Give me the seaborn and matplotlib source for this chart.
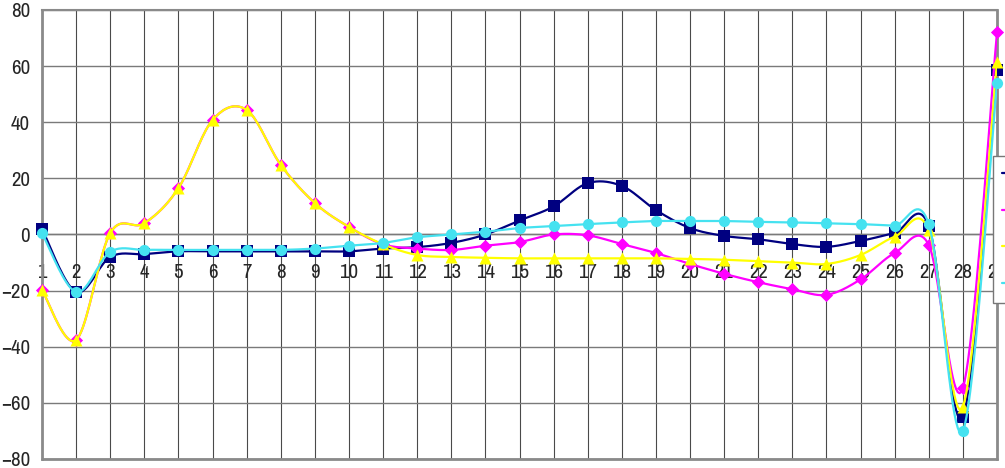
import numpy as np
import pandas as pd
import seaborn as sns
import matplotlib
matplotlib.use("Agg")
from matplotlib import pyplot as plt
from matplotlib import font_manager
from matplotlib.font_manager import FontProperties
from matplotlib.lines import Line2D

# values
categories = list(range(1, 30))
series_names = ["Series1", "Series2", "Series3", "Series4"]
navy_vals = [2, -20.5, -8, -7, -6, -6, -6, -6, -6, -6, -5, -4.5, -3, 0, 5, 10,
             18.3, 17.3, 8.7, 2.3, -0.5, -1.7, -3.4, -4.4, -2.3, 0.5, 3, -65, 58.6]
magenta_vals = [-19.8, -37.6, 0.5, 4, 16.5, 40.8, 44.4, 24.8, 11.2, 2.7, -3.5, -5,
                -5.5, -4, -2.7, 0, -0.3, -3.4, -6.6, -10.5, -14, -17, -19.5, -21.5,
                -16, -6.6, -3.7, -54.7, 72]
yellow_vals = [-19.8, -37.6, 0.5, 4, 16.5, 40.8, 44.4, 24.8, 11.2, 2.7, -3.5, -7.3,
               -8, -8.3, -8.5, -8.5, -8.5, -8.5, -8.5, -8.7, -9, -9.5, -10, -10.5,
               -7.3, -0.8, 1.5, -61.4, 61.5]
cyan_vals = [0.5, -20.5, -6.2, -5.5, -5.5, -5.5, -5.5, -5.5, -5, -4, -3, -1, 0, 1,
             2.3, 3, 3.7, 4.3, 4.8, 4.8, 4.8, 4.5, 4.3, 4, 3.7, 3.2, 3.7, -70, 54]

colors = ["#000080", "#FF00FF", "#FFFF00", "#45E2F0"]
markers = ["s", "D", "^", "o"]
marker_sizes = [65, 45, 75, 65]


# Excel-like smoothed line (Catmull-Rom through the points)
def smooth(x, y, steps=20):
    x = np.asarray(x, float)
    y = np.asarray(y, float)
    px = np.concatenate([[x[0]], x, [x[-1]]])
    py = np.concatenate([[y[0]], y, [y[-1]]])
    xs, ys = [], []
    t = np.linspace(0, 1, steps, endpoint=False)
    for i in range(1, len(px) - 2):
        for arr, out in ((px, xs), (py, ys)):
            p0, p1, p2, p3 = arr[i - 1], arr[i], arr[i + 1], arr[i + 2]
            c1 = p1 + (p2 - p0) / 6
            c2 = p2 - (p3 - p1) / 6
            out.extend((1 - t) ** 3 * p1 + 3 * (1 - t) ** 2 * t * c1
                       + 3 * (1 - t) * t ** 2 * c2 + t ** 3 * p2)
    xs.append(x[-1])
    ys.append(y[-1])
    return np.array(xs), np.array(ys)


# look for a narrow sans face (the reference uses Arial Narrow-like digits)
def narrow_font():
    best = None
    for f in font_manager.fontManager.ttflist:
        if f.style != "normal" or f.weight not in (400, "normal", "regular"):
            continue
        name = f.name.lower()
        if "narrow" in name:
            return f.fname, True
        if ("condensed" in name or f.stretch in ("condensed", "semi-condensed")) and best is None:
            best = f.fname
    if best:
        return best, True
    return None, False


sns.set_style("white")
plt.rcParams["font.family"] = ["Liberation Sans", "DejaVu Sans"]

font_path, is_narrow = narrow_font()
if is_narrow:
    tick_font = FontProperties(fname=font_path, size=15)
else:
    tick_font = FontProperties(family="Liberation Sans", size=13.5)

fig = plt.figure(figsize=(10.05, 4.68), dpi=100)
ax = fig.add_axes([42 / 1005, 9 / 468, 955 / 1005, 449 / 468])

all_vals = [navy_vals, magenta_vals, yellow_vals, cyan_vals]
for k, vals in enumerate(all_vals):
    sx, sy = smooth(categories, vals)
    curve = pd.DataFrame({"x": sx, "y": sy})
    pts = pd.DataFrame({"x": categories, "y": vals})
    sns.lineplot(data=curve, x="x", y="y", ax=ax, color=colors[k], lw=1.6,
                 sort=False, zorder=3 + k, estimator=None)
    sns.scatterplot(data=pts, x="x", y="y", ax=ax, color=colors[k], marker=markers[k],
                    s=marker_sizes[k], linewidth=0, zorder=3 + k, clip_on=False)

ax.set_xlim(1, 29)
ax.set_ylim(-80, 80)
ax.set_xticks(categories)
ax.set_xticklabels([str(c) for c in categories])
ax.set_yticks(range(-80, 81, 20))
ax.set_xlabel("")
ax.set_ylabel("")

ax.grid(True, axis="x", color="#4a4a4a", lw=0.8)
ax.grid(True, axis="y", color="#7a7a7a", lw=1.0)
ax.set_axisbelow(True)

ax.spines["bottom"].set_position(("data", 0))
ax.spines["bottom"].set_color("#7a7a7a")
ax.spines["bottom"].set_linewidth(1.0)
ax.spines["left"].set_color("#8a8a8a")
ax.spines["left"].set_linewidth(2)
ax.spines["top"].set_color("#8a8a8a")
ax.spines["top"].set_linewidth(1.5)
ax.spines["right"].set_color("#8a8a8a")
ax.spines["right"].set_linewidth(2)
ax.axhline(-80, color="#8a8a8a", lw=2, clip_on=False, zorder=2)

# x labels: baseline ~44 px under the zero line
ax.tick_params(axis="x", length=0, pad=31.5)
ax.tick_params(axis="y", direction="out", length=3.6, width=1.2, color="#8a8a8a", pad=5)
for lab in ax.get_xticklabels():
    lab.set_fontproperties(tick_font)
    lab.set_verticalalignment("baseline")
for lab in ax.get_yticklabels():
    lab.set_fontproperties(tick_font)

handles = [Line2D([0], [0], color=c, lw=1.6, marker=m, markersize=8)
           for c, m in zip(colors, markers)]
fig.legend(handles, series_names, loc="upper left",
           bbox_to_anchor=(993 / 1005, 1 - 156 / 468), borderaxespad=0,
           borderpad=0.45, labelspacing=0.84, prop=tick_font, handlelength=2,
           fancybox=False, edgecolor="#777777", framealpha=1)

fig.savefig("out.png", dpi=100)
